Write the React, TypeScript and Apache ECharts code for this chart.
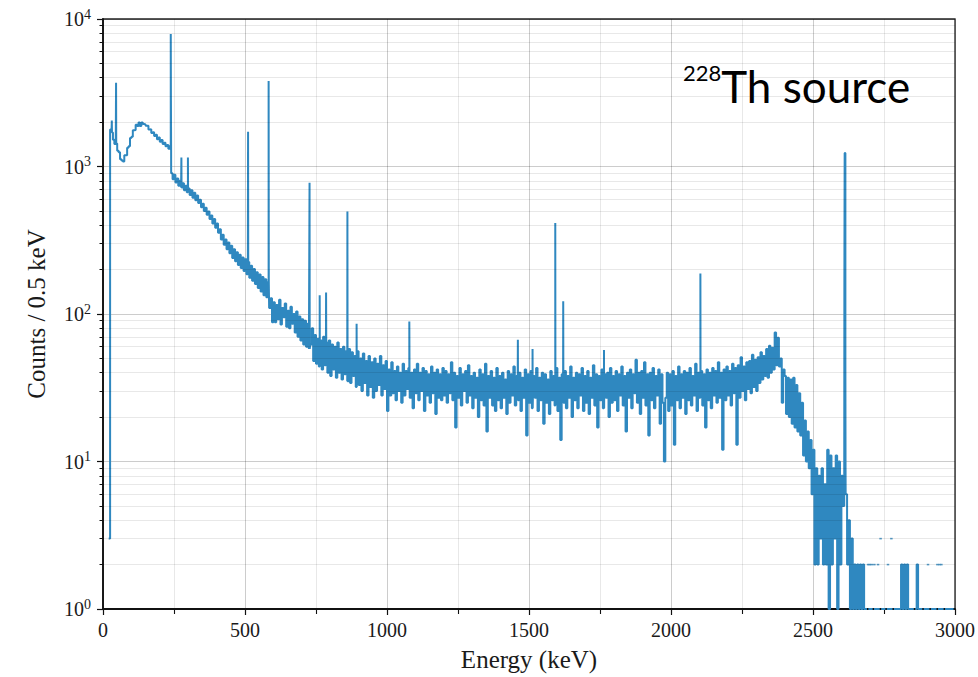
import React, { useEffect, useRef } from "react";
import * as echarts from "echarts";

// Bin width of the typed continuum arrays (keV)
const BIN = 5;

// Counts / 0.5 keV, one value per 5 keV step
const seg1Start = 20;
const seg1 = [
  3, 1780, 1700, 1520, 1420, 1430, 1280, 1250, 1120, 1100,
  1080, 1190, 1190, 1340, 1370, 1560, 1590, 1760, 1770, 1920,
  1880, 1990, 1880, 1990, 1940, 1930, 1890, 1890, 1780, 1790,
  1690, 1710, 1610, 1640, 1530, 1570, 1470, 1510, 1420, 1450,
  1370, 1400, 1320, 1370, 900, 820, 880, 780, 830, 740,
  800, 720, 770, 690, 740, 670, 710, 640, 690, 615,
  665, 590, 635, 565, 595, 530, 560, 500, 525, 470,
  495, 440, 465, 410, 440, 385, 410, 355, 375, 320,
  345, 295, 320, 275, 305, 258, 290, 240, 275, 228,
  262, 215, 252, 205, 242, 196, 235, 186, 225, 176,
  212, 168, 202, 160, 192, 150, 185, 142, 178, 134,
  172, 130, 165, 110, 128, 88,
];

const seg2Start = 600;
const seg2 = [
  120, 88, 115, 92, 125, 85, 110, 95, 118, 82,
  105, 80, 112, 86, 100, 75, 104, 70, 96, 66,
  92, 62, 90, 60, 86, 58, 62, 80, 48, 72,
  46, 68, 44, 66, 42, 70, 45, 64, 40, 66,
  38, 62, 42, 60, 37, 64, 40, 58, 36, 60,
  39, 56, 35, 58, 34, 55, 38, 52, 32, 56,
  33, 50, 30, 54, 34, 48, 28, 52, 32, 47,
  27, 50, 30, 46, 33, 52, 28, 45, 31, 48,
  22, 42, 28, 47, 29, 41, 26, 44, 30, 40,
  25, 46, 28, 41, 31, 43, 27, 40, 23, 42,
  29, 46, 26, 40, 30, 43, 22, 41, 28, 39,
  25, 44, 29, 40, 21, 42, 27, 39, 26, 43,
];

const seg3Start = 1200;
const seg3 = [
  28, 41, 25, 39, 29, 47, 26, 40, 17, 38,
  27, 43, 24, 39, 30, 41, 25, 45, 28, 38,
  23, 40, 27, 37, 20, 42, 26, 39, 24, 46,
  16, 38, 27, 41, 24, 37, 22, 43, 26, 38,
  23, 40, 27, 36, 21, 41, 25, 39, 28, 44,
  24, 38, 26, 40, 22, 37, 27, 42, 15, 39,
  25, 41, 23, 38, 27, 43, 22, 37, 26, 40,
  18, 39, 25, 36, 21, 41, 26, 38, 24, 43,
  22, 37, 14, 39, 25, 41, 23, 38, 27, 44,
  20, 37, 26, 40, 23, 39, 28, 43, 22, 38,
  25, 41, 21, 37, 27, 45, 24, 39, 17, 38,
  26, 42, 23, 39, 27, 40, 20, 43, 25, 38,
];

const seg4Start = 1800;
const seg4 = [
  26, 41, 22, 39, 28, 44, 24, 38, 16, 40,
  27, 42, 23, 39, 29, 49, 25, 40, 21, 41,
  27, 47, 24, 39, 15, 40, 26, 43, 23, 38,
  28, 42, 18, 39, 25, 10, 27, 40, 22, 39,
  24, 41, 13, 38, 26, 44, 23, 39, 27, 41,
  21, 40, 26, 43, 24, 38, 28, 46, 22, 40,
  27, 41, 24, 39, 17, 42, 26, 40, 23, 43,
  28, 41, 25, 47, 27, 40, 12, 42, 26, 44,
  28, 41, 24, 46, 29, 43, 13, 45, 27, 51,
  30, 44, 26, 47, 31, 48, 29, 53, 32, 49,
  30, 51, 34, 55, 36, 52, 38, 58, 37, 61,
  40, 59, 42, 75, 45, 69, 44, 50, 25, 42,
];

const seg5Start = 2400;
const seg5: (number | null)[] = [
  38, 21, 37, 20, 36, 18, 37, 17, 33, 16,
  29, 15, 25, 11, 19, 10, 16, 9, 14, 6,
  12, 2, 9, 2, 8, 3, 9, 2, 7, 2,
  12, 1, 11, 2, 9, 3, 11, 1, 10, 2,
  8, 5, 9, 6, 2, 4, 1, 3, 1, 2,
  1, 2, 1, 2, 1, 2, 1, 1, null, 1,
  1, 1, null, 1, 1, 1, 1, null, 1, 1,
  1, null, 1, 1, 1, 1, null, 1, 1, 1,
  1, 1, 2, 1, 2, 1, 2, 1, 1, 1,
  1, null, 1, 2, 1, 1, 1, null, 1, 1,
  1, 1, null, 1, 1, 1, 1, null, 1, 1,
  1, 1, null, 1, 1, 1, 1, 1, 1, 1,
];

// Gamma lines: [energy keV, counts at top]
const peaks: [number, number][] = [
  [31, 2050], [46, 3700], [238.6, 7900], [239.2, 2800], [276, 1150],
  [299, 1150], [510.8, 1720], [583.2, 3800], [727.3, 775], [763, 134],
  [785.5, 140], [860.6, 496], [893, 86], [1078.6, 89], [1460.8, 67],
  [1512.5, 58], [1592.5, 414], [1620.5, 122], [1764, 57], [2103.5, 188],
  [2610.5, 163], [2611.5, 1234], [2614, 48],
];

// Isolated bins above 2680 keV surrounded by empty bins
const tailDots: [number, number][] = [
  [2694, 2], [2700, 2], [2707, 2], [2716, 2], [2729, 2], [2738, 3],
  [2764, 2], [2776, 3], [2905, 2], [2938, 2], [2945, 2], [2952, 2],
];

const yLabelExp = ["0", "1", "2", "3", "4"];
const yMinorValues = [
  2, 3, 4, 5, 6, 7, 8, 9,
  20, 30, 40, 50, 60, 70, 80, 90,
  200, 300, 400, 500, 600, 700, 800, 900,
  2000, 3000, 4000, 5000, 6000, 7000, 8000, 9000,
];

const LINE_COLOR = "#2f88c0";
const SERIF = "'Liberation Serif', 'DejaVu Serif', serif";

function buildSpectrum(): (number | string)[][] {
  const segs: [number, (number | null)[]][] = [
    [seg1Start, seg1],
    [seg2Start, seg2],
    [seg3Start, seg3],
    [seg4Start, seg4],
    [seg5Start, seg5],
  ];
  const cont: [number, number | null][] = [];
  segs.forEach(([start, vals]) =>
    vals.forEach((v, i) => cont.push([start + i * BIN, v]))
  );
  const pk = peaks.slice().sort((a, b) => a[0] - b[0]);
  const out: (number | string)[][] = [];
  let pi = 0;
  for (let i = 0; i < cont.length; i++) {
    const [x, v] = cont[i];
    out.push([x, v == null ? "-" : v]);
    const nextX = i + 1 < cont.length ? cont[i + 1][0] : Infinity;
    let lastE = -1;
    while (pi < pk.length && pk[pi][0] < nextX) {
      out.push([pk[pi][0], pk[pi][1]]);
      lastE = pk[pi][0];
      pi++;
    }
    if (lastE >= 0) out.push([lastE + 0.6, v == null ? "-" : v]);
  }
  return out;
}

export default function App() {
  const ref = useRef<HTMLDivElement>(null);
  useEffect(() => {
    if (!ref.current) return;
    const chart = echarts.init(ref.current, null, { renderer: "svg" });
    const spectrum = buildSpectrum();
    chart.setOption({
      animation: false,
      backgroundColor: "#fff",
      grid: {
        left: 103,
        right: 21,
        top: 19,
        bottom: 67,
        show: true,
        borderColor: "#222",
        borderWidth: 1.3,
        backgroundColor: "transparent",
      },
      xAxis: {
        type: "value",
        min: 0,
        max: 3000,
        interval: 500,
        name: "Energy (keV)",
        nameLocation: "middle",
        nameGap: 38,
        nameTextStyle: { fontFamily: SERIF, fontSize: 25, color: "#1a1a1a" },
        axisLine: { onZero: false, lineStyle: { color: "#111", width: 1.8 } },
        axisTick: { show: true, length: 6, lineStyle: { color: "#111", width: 1.2 } },
        minorTick: { show: true, splitNumber: 2, length: 5, lineStyle: { color: "#111", width: 1.1 } },
        splitLine: { show: true, lineStyle: { color: "rgba(0,0,0,0.2)", width: 1 } },
        minorSplitLine: { show: true, lineStyle: { color: "rgba(0,0,0,0.09)", width: 1 } },
        axisLabel: {
          fontFamily: SERIF,
          fontSize: 20,
          color: "#1a1a1a",
          margin: 11,
          formatter: (v: number) => String(v),
        },
      },
      yAxis: [
        {
          type: "log",
          logBase: 10,
          min: 1,
          max: 10000,
          position: "left",
          name: "Counts / 0.5 keV",
          nameLocation: "middle",
          nameGap: 54,
          nameTextStyle: { fontFamily: SERIF, fontSize: 25, color: "#1a1a1a" },
          axisLine: { show: true, onZero: false, lineStyle: { color: "#111", width: 1.8 } },
          axisTick: { show: true, length: 6, lineStyle: { color: "#111", width: 1.2 } },
          minorTick: { show: false },
          splitLine: { show: true, lineStyle: { color: "rgba(0,0,0,0.2)", width: 1 } },
          minorSplitLine: { show: false },
          axisLabel: {
            margin: 12,
            formatter: (v: number) => {
              const e = yLabelExp[Math.round(Math.log10(v))] ?? "";
              return `{b|10}{s|${e}}`;
            },
            rich: {
              b: { fontFamily: SERIF, fontSize: 20, color: "#1a1a1a", lineHeight: 24 },
              s: { fontFamily: SERIF, fontSize: 14, color: "#1a1a1a", verticalAlign: "top", lineHeight: 14 },
            },
          },
        },
        {
          type: "log",
          logBase: 10,
          min: 1,
          max: 10000,
          position: "left",
          axisLine: { show: false },
          axisLabel: { show: false },
          splitLine: { show: false },
          axisTick: {
            show: true,
            length: 3.5,
            customValues: yMinorValues,
            lineStyle: { color: "#111", width: 1 },
          },
        },
      ],
      graphic: [
        {
          type: "text",
          left: 683,
          top: 61,
          style: {
            text: "{sup|228}{main|Th source}",
            fill: "#000",
            rich: {
              sup: { fontFamily: "Lato", fontSize: 22, fill: "#000", verticalAlign: "top", lineHeight: 29 },
              main: { fontFamily: "Lato", fontSize: 44, fill: "#000", lineHeight: 50 },
            },
          },
        },
      ],
      series: [
        {
          type: "line",
          step: "end",
          data: spectrum,
          showSymbol: false,
          symbol: "none",
          connectNulls: false,
          clip: true,
          silent: true,
          z: 3,
          lineStyle: { color: LINE_COLOR, width: 2 },
          emphasis: { disabled: true },
        },
        {
          type: "scatter",
          data: tailDots,
          symbol: "rect",
          symbolSize: [2.5, 1.6],
          itemStyle: { color: LINE_COLOR },
          silent: true,
          z: 3,
          markLine: {
            silent: true,
            symbol: ["none", "none"],
            label: { show: false },
            animation: false,
            lineStyle: { color: "rgba(0,0,0,0.09)", type: "solid", width: 1 },
            emphasis: { disabled: true },
            data: yMinorValues.map((v) => ({ yAxis: v })),
          },
        },
      ],
    });
    return () => chart.dispose();
  }, []);
  return (
    <div
      ref={ref}
      style={{ position: "fixed", left: 0, top: 0, width: 978, height: 677, background: "#fff" }}
    />
  );
}
